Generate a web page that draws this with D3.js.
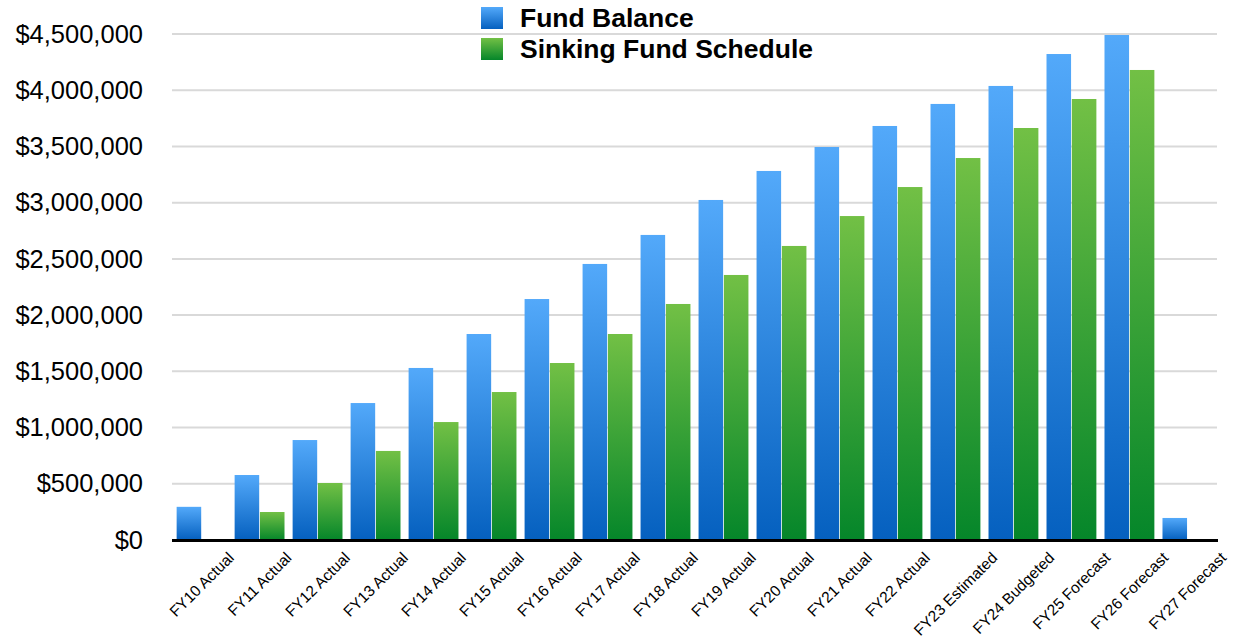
<!DOCTYPE html>
<html>
<head>
<meta charset="utf-8">
<script src="https://cdn.jsdelivr.net/npm/d3@7"></script>
<style>
  body { margin: 0; background: #fff; }
  svg { display: block; font-family: "Liberation Sans", Arial, Helvetica, sans-serif; }
</style>
</head>
<body>
<div id="chart"></div>
<script>
const years = ["FY10 Actual", "FY11 Actual", "FY12 Actual", "FY13 Actual", "FY14 Actual", "FY15 Actual",
  "FY16 Actual", "FY17 Actual", "FY18 Actual", "FY19 Actual", "FY20 Actual", "FY21 Actual",
  "FY22 Actual", "FY23 Estimated", "FY24 Budgeted", "FY25 Forecast", "FY26 Forecast", "FY27 Forecast"];
const fundBalance = [295000, 578000, 889000, 1218000, 1530000, 1832000, 2143000, 2455000, 2713000,
  3024000, 3282000, 3495000, 3682000, 3878000, 4038000, 4322000, 4491000, 196000];
const sinkingSchedule = [0, 249000, 507000, 792000, 1049000, 1316000, 1574000, 1832000, 2099000,
  2357000, 2615000, 2881000, 3139000, 3397000, 3664000, 3922000, 4180000, 0];
const seriesNames = ["Fund Balance", "Sinking Fund Schedule"];
const yTicks = [0, 500000, 1000000, 1500000, 2000000, 2500000, 3000000, 3500000, 4000000, 4500000];

const W = 1238, H = 639;
const plot = { left: 172, right: 1217, top: 34, bottom: 540 };

const svg = d3.select("#chart").append("svg")
  .attr("width", W)
  .attr("height", H);

// gradients, light at top, dark at bottom
const defs = svg.append("defs");
const grads = [
  { id: "gBlue", top: "#53a9fa", bot: "#0560bf" },
  { id: "gGreen", top: "#72c045", bot: "#05862a" }
];
grads.forEach(g => {
  const lg = defs.append("linearGradient").attr("id", g.id)
    .attr("x1", 0).attr("y1", 0).attr("x2", 0).attr("y2", 1);
  lg.append("stop").attr("offset", "0%").attr("stop-color", g.top);
  lg.append("stop").attr("offset", "100%").attr("stop-color", g.bot);
});
const fill = d3.scaleOrdinal().domain(seriesNames).range(["url(#gBlue)", "url(#gGreen)"]);

const x0 = d3.scaleBand()
  .domain(years)
  .range([plot.left, plot.right])
  .paddingInner(0.14)
  .paddingOuter(0.08);

const x1 = d3.scaleBand()
  .domain(seriesNames)
  .range([0, x0.bandwidth()])
  .paddingInner(0.03);

const y = d3.scaleLinear()
  .domain([0, 4500000])
  .range([plot.bottom, plot.top]);

// gridlines
svg.append("g").selectAll("line")
  .data(yTicks.filter(d => d > 0))
  .join("line")
  .attr("x1", plot.left).attr("x2", plot.right)
  .attr("y1", d => y(d)).attr("y2", d => y(d))
  .attr("stroke", "#d9d9d9")
  .attr("stroke-width", 2);

// y axis labels
const yAxis = svg.append("g")
  .attr("transform", "translate(143,0)")
  .call(d3.axisLeft(y).tickValues(yTicks).tickFormat(d3.format("$,")).tickSize(0).tickPadding(0));
yAxis.select(".domain").remove();
yAxis.selectAll("text")
  .attr("font-size", "25.5px")
  .attr("font-family", "'Liberation Sans', Arial, sans-serif")
  .attr("fill", "#000");

// bars
const rows = years.map((yr, i) => ({ name: yr, values: [fundBalance[i], sinkingSchedule[i]] }));
svg.append("g").selectAll("g")
  .data(rows)
  .join("g")
  .attr("transform", d => `translate(${x0(d.name)},0)`)
  .selectAll("rect")
  .data(d => seriesNames.map((s, j) => ({ key: s, value: d.values[j] })))
  .join("rect")
  .attr("x", d => x1(d.key))
  .attr("y", d => y(d.value))
  .attr("width", x1.bandwidth())
  .attr("height", d => plot.bottom - y(d.value))
  .attr("fill", d => fill(d.key));

// baseline
svg.append("line")
  .attr("x1", plot.left).attr("x2", plot.right + 1)
  .attr("y1", plot.bottom + 0.5).attr("y2", plot.bottom + 0.5)
  .attr("stroke", "#000")
  .attr("stroke-width", 3);

// x axis labels, rotated and centred on each category
const xAxis = svg.append("g")
  .attr("transform", `translate(0,${plot.bottom})`)
  .call(d3.axisBottom(x0).tickSize(0).tickPadding(0));
xAxis.select(".domain").remove();
xAxis.selectAll("text")
  .attr("font-size", "15.5px")
  .attr("font-family", "'Liberation Sans', Arial, sans-serif")
  .attr("fill", "#000")
  .attr("text-anchor", "middle")
  .attr("y", 0)
  .attr("dy", "0.35em")
  .each(function() {
    const L = this.getComputedTextLength();
    const half = (L + 11) * Math.SQRT1_2 / 2;
    d3.select(this).attr("transform", `translate(0,${11 + half}) rotate(-45)`);
  });

// legend
const legend = svg.append("g").selectAll("g")
  .data(seriesNames)
  .join("g")
  .attr("transform", (d, i) => `translate(481,${7 + i * 31})`);

legend.append("rect")
  .attr("width", 22)
  .attr("height", 22)
  .attr("fill", d => fill(d));

legend.append("text")
  .attr("x", 39)
  .attr("y", 20)
  .attr("font-size", "26.5px")
  .attr("font-weight", "bold")
  .text(d => d);
</script>
</body>
</html>
